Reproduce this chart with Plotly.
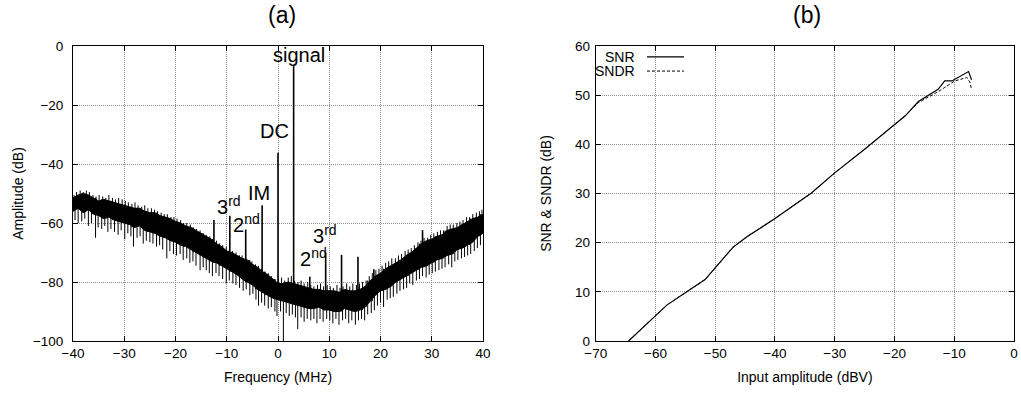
import plotly.graph_objects as go

# ---------------- (a) spectrum data ----------------
freq = list(range(-40, 41))  # MHz, 1 MHz grid for the noise band
noise_upper = [-51.5, -50.5, -50.0, -50.5, -51.5, -52.5, -52.0, -52.5, -53.0, -53.5,
               -54.0, -54.5, -55.0, -55.0, -56.0, -56.5, -56.5, -57.5, -58.0, -58.5,
               -59.5, -60.0, -61.0, -61.5, -62.5, -63.5, -64.5, -65.5, -67.0, -68.0,
               -69.5, -70.0, -71.0, -72.0, -72.5, -74.0, -75.0, -76.5, -77.5, -79.0,
               -80.5, -80.5, -80.0, -80.5, -81.0, -81.5, -82.0, -82.5, -82.5, -83.0,
               -83.0, -83.0, -83.5, -82.5, -83.0, -83.0, -82.5, -81.5, -79.5, -78.0,
               -77.0, -75.5, -74.5, -73.5, -72.5, -71.0, -70.0, -68.5, -67.0, -66.0,
               -65.5, -64.5, -64.0, -62.5, -62.0, -61.5, -60.5, -59.5, -58.5, -58.0,
               -57.0]
noise_lower = [-56.0, -55.0, -56.5, -55.5, -57.0, -57.5, -58.5, -58.0, -59.0, -59.5,
               -60.0, -60.5, -61.5, -61.0, -62.5, -63.0, -63.5, -64.5, -65.0, -66.0,
               -66.5, -67.5, -68.0, -69.0, -70.0, -71.0, -72.0, -73.0, -73.5, -74.5,
               -75.5, -76.5, -77.5, -79.0, -80.0, -81.0, -82.5, -83.5, -84.5, -85.5,
               -86.0, -86.5, -87.0, -87.5, -88.0, -88.5, -89.0, -89.0, -88.5, -89.5,
               -89.5, -90.0, -90.0, -89.0, -89.5, -90.0, -89.5, -88.5, -86.5, -84.5,
               -83.0, -82.5, -81.5, -80.0, -79.0, -78.0, -77.0, -76.0, -75.0, -74.5,
               -73.5, -72.5, -72.0, -71.0, -70.5, -69.0, -68.5, -67.5, -66.5, -64.5,
               -63.5]

# downward noise spikes (frequency, tip level)
down_f = [-39.6, -39.0, -38.3, -37.7, -37.0, -36.4, -35.6, -35.1, -34.4, -33.8,
          -33.2, -32.6, -31.9, -31.2, -30.6, -29.9, -29.3, -28.7, -28.2, -27.5,
          -26.9, -26.3, -25.7, -25.0, -24.4, -23.7, -23.1, -22.5, -21.7, -21.1,
          -20.4, -19.8, -19.1, -18.5, -17.8, -17.2, -16.6, -16.0, -15.2, -14.6,
          -14.0, -13.4, -12.8, -12.1, -11.5, -10.8, -10.1, -9.5, -8.8, -8.2,
          -7.5, -6.8, -6.2, -5.5, -4.9, -4.3, -3.8, -3.2, -2.6, -1.9,
          -1.3, -0.6, -0.2, 0.5, 1.05, 1.6, 2.2, 2.8, 3.4, 3.85,
          4.5, 5.1, 5.7, 6.4, 7.0, 7.6, 8.2, 8.8, 9.5, 10.1,
          10.7, 11.3, 11.9, 12.6, 13.2, 13.8, 14.4, 15.1, 15.7, 16.3,
          16.9, 17.5, 18.2, 18.8, 19.4, 20.0, 20.6, 21.3, 21.9, 22.5,
          23.2, 23.8, 24.5, 25.1, 25.7, 26.3, 27.0, 27.6, 28.2, 28.9,
          29.5, 30.1, 30.7, 31.4, 32.0, 32.6, 33.3, 33.9, 34.5, 35.1,
          35.8, 36.4, 37.0, 37.6, 38.3, 38.9, 39.5]
down_db = [-59.0, -60.0, -59.5, -58.5, -61.0, -60.0, -65.0, -61.5, -62.0, -61.0,
           -63.0, -62.0, -63.0, -64.0, -62.5, -65.5, -63.5, -64.5, -68.0, -65.0,
           -64.5, -67.0, -66.0, -66.5, -67.0, -68.0, -67.5, -69.0, -72.0, -69.5,
           -70.5, -71.0, -70.5, -72.5, -72.0, -73.5, -73.0, -74.5, -76.0, -75.0,
           -76.0, -77.0, -78.0, -77.0, -78.0, -79.0, -80.5, -79.5, -80.5, -81.0,
           -82.0, -83.0, -82.5, -84.5, -84.0, -86.0, -88.0, -87.0, -88.0, -89.0,
           -88.5, -90.0, -91.5, -90.0, -100.0, -90.5, -91.5, -91.0, -92.0, -96.0,
           -92.0, -93.5, -92.5, -93.0, -92.5, -94.0, -92.5, -93.5, -92.5, -93.0,
           -94.0, -92.5, -94.5, -93.0, -92.5, -94.0, -93.0, -94.5, -93.0, -92.5,
           -93.0, -91.0, -90.5, -89.5, -88.0, -87.0, -88.5, -86.0, -85.5, -85.0,
           -84.0, -83.0, -82.5, -82.0, -80.5, -81.0, -79.5, -79.0, -78.0, -78.5,
           -77.5, -77.0, -76.5, -76.0, -75.5, -75.0, -74.0, -75.0, -73.0, -72.5,
           -72.0, -71.5, -71.0, -70.5, -69.5, -68.5, -67.5]

# upward noise spikes (frequency, tip level)
up_f = [-39.8, -39.3, -38.6, -38.0, -37.4, -36.8, -36.1, -35.5, -34.9, -34.2,
        -33.6, -33.0, -32.3, -31.7, -31.1, -30.4, -29.8, -29.2, -28.5, -27.9,
        -27.3, -26.6, -26.0, -25.4, -24.7, -24.1, -23.5, -22.8, -22.2, -21.6,
        -20.9, -20.3, -19.7, -19.0, -18.4, -17.8, -17.1, -16.5, -15.9, -15.2,
        -14.6, -14.0, -13.3, -12.7, -12.0, -11.4, -10.8, -10.1, -9.5, -8.9,
        -8.2, -7.6, -7.0, -6.3, -5.7, -5.1, -4.4, -3.8, -3.2, -2.5,
        -1.9, -1.3, -0.6, 0.1, 0.7, 1.3, 2.0, 2.6, 3.2, 3.9,
        4.5, 5.1, 5.8, 6.4, 7.0, 7.7, 8.3, 8.9, 9.6, 10.2,
        10.8, 11.5, 12.1, 12.7, 13.4, 14.0, 14.6, 15.3, 15.9, 16.5,
        17.2, 17.8, 18.4, 19.1, 19.7, 20.3, 21.0, 21.6, 22.2, 22.9,
        23.5, 24.1, 24.8, 25.4, 26.0, 26.6, 27.3, 27.9, 28.5, 29.2,
        29.8, 30.4, 31.1, 31.7, 32.3, 33.0, 33.6, 34.2, 34.9, 35.5,
        36.1, 36.8, 37.4, 38.0, 38.7, 39.3, 39.8]
up_db = [-50.5, -49.5, -49.0, -49.5, -49.0, -49.5, -50.5, -51.0, -50.5, -51.0,
         -51.5, -50.5, -51.5, -52.0, -51.5, -52.0, -52.5, -53.0, -53.5, -53.0,
         -54.0, -54.5, -54.0, -55.0, -55.0, -55.5, -56.0, -56.5, -57.0, -57.0,
         -58.0, -58.0, -58.5, -59.0, -60.0, -60.0, -60.5, -61.5, -62.0, -62.5,
         -63.5, -64.0, -64.5, -65.5, -66.0, -67.0, -67.5, -68.0, -69.0, -69.5,
         -70.0, -71.0, -71.0, -71.5, -72.5, -73.0, -74.0, -74.5, -75.5, -76.5,
         -77.0, -78.0, -79.0, -79.0, -78.5, -79.5, -78.5, -78.0, -79.5, -80.0,
         -79.5, -80.5, -80.0, -81.0, -81.5, -81.0, -80.5, -81.5, -81.0, -81.5,
         -82.0, -81.0, -82.0, -81.5, -80.5, -81.5, -80.5, -81.0, -80.5, -80.0,
         -79.5, -78.0, -77.0, -76.0, -75.5, -74.5, -73.5, -73.0, -72.0, -72.0,
         -71.0, -70.5, -69.5, -69.0, -68.5, -67.5, -66.5, -66.0, -65.0, -65.0,
         -64.0, -63.5, -63.0, -62.5, -62.5, -61.0, -60.5, -60.5, -60.0, -59.5,
         -59.0, -58.0, -58.0, -57.0, -56.5, -56.0, -55.5]

# tones (signal, DC, harmonics, IM and spurs)
tone_f = [-12.5, -9.4, -6.3, -3.1, 0.0, 3.05, 6.2, 9.3, 12.4, 15.6, 18.7, 28.2]
tone_db = [-59.0, -57.5, -62.2, -54.0, -36.2, -6.8, -78.2, -70.0, -70.8, -71.4, -75.7, -62.4]

# tone labels
label_text = ["signal", "DC", "IM", "3<sup>rd</sup>", "2<sup>nd</sup>", "3<sup>rd</sup>", "2<sup>nd</sup>"]
label_f = [4.1, -0.6, -3.7, -9.6, -6.1, 9.2, 6.9]
label_db = [-3.0, -28.8, -49.8, -54.0, -60.0, -63.8, -71.8]

# ---------------- (b) SNR / SNDR data ----------------
snr_x = [-64.5, -58.1, -51.7, -47.0, -44.7, -40.0, -33.9, -30.0, -25.0, -19.9,
         -18.2, -16.0, -12.7, -11.6, -10.4, -7.6, -7.1]
snr_y = [0.0, 7.3, 12.5, 19.1, 21.2, 24.9, 30.1, 34.2, 39.0, 44.2,
         45.8, 48.7, 51.2, 52.9, 52.9, 54.8, 53.1]
sndr_x = [-64.5, -58.1, -51.7, -47.0, -44.7, -40.0, -33.9, -30.0, -25.0, -19.9,
          -18.2, -16.0, -12.7, -9.9, -7.9, -7.4, -7.1]
sndr_y = [0.0, 7.3, 12.5, 19.1, 21.2, 24.9, 30.1, 34.2, 39.0, 44.2,
          45.8, 48.5, 50.7, 52.9, 53.6, 52.7, 51.2]

FONT = "Liberation Sans, Arial, sans-serif"

# figure geometry (pixels)
W, H = 1021, 394
ML, MR, MT, MB = 73, 7, 46, 53
PW = W - ML - MR


def px_to_dom(px):
    return (px - ML) / PW


def nearest(arr, f):
    i = int(round(f)) + 40
    i = max(0, min(len(arr) - 1, i))
    return arr[i]


fig = go.Figure()

# noise band
fig.add_trace(go.Scatter(x=freq, y=noise_lower, mode="lines",
                         line=dict(color="black", width=1),
                         xaxis="x", yaxis="y", showlegend=False, hoverinfo="skip"))
fig.add_trace(go.Scatter(x=freq, y=noise_upper, mode="lines", fill="tonexty",
                         fillcolor="black", line=dict(color="black", width=1),
                         xaxis="x", yaxis="y", showlegend=False, hoverinfo="skip"))

# noise spikes
sx, sy = [], []
for f, d in zip(down_f, down_db):
    sx += [f, f, None]
    sy += [nearest(noise_upper, f), d, None]
for f, d in zip(up_f, up_db):
    sx += [f, f, None]
    sy += [nearest(noise_lower, f), d, None]
fig.add_trace(go.Scatter(x=sx, y=sy, mode="lines", line=dict(color="black", width=1),
                         xaxis="x", yaxis="y", showlegend=False, hoverinfo="skip"))

# tones
tx, ty = [], []
for f, d in zip(tone_f, tone_db):
    tx += [f, f, None]
    ty += [nearest(noise_lower, f), d, None]
fig.add_trace(go.Scatter(x=tx, y=ty, mode="lines", line=dict(color="black", width=1.6),
                         xaxis="x", yaxis="y", showlegend=False, hoverinfo="skip"))

# SNR / SNDR
fig.add_trace(go.Scatter(x=snr_x, y=snr_y, mode="lines", name="SNR",
                         line=dict(color="black", width=1.2),
                         xaxis="x2", yaxis="y2", showlegend=False))
fig.add_trace(go.Scatter(x=sndr_x, y=sndr_y, mode="lines", name="SNDR",
                         line=dict(color="black", width=1, dash="3px,2px"),
                         xaxis="x2", yaxis="y2", showlegend=False))

axis_common = dict(
    showline=True, linecolor="black", linewidth=1, mirror="ticks",
    ticks="inside", ticklen=5, tickcolor="black", tickwidth=1,
    showgrid=True, gridcolor="#8c8c8c", griddash="1px,1px", gridwidth=1,
    zeroline=False, automargin=False,
    tickfont=dict(family=FONT, size=13.5, color="black"),
    title_font=dict(family=FONT, size=14, color="black"),
)

fig.update_layout(
    width=W, height=H,
    margin=dict(l=ML, r=MR, t=MT, b=MB, autoexpand=False),
    paper_bgcolor="white", plot_bgcolor="white",
    font=dict(family=FONT, color="black"),
    xaxis=dict(domain=[px_to_dom(73), px_to_dom(483)], range=[-40, 40], dtick=10, anchor="y",
               ticklabelstandoff=0,
               title=dict(text="Frequency (MHz)", standoff=11), **axis_common),
    yaxis=dict(domain=[0, 1], range=[-100, 0], dtick=20, anchor="x",
               title=dict(text="Amplitude (dB)", standoff=5), ticklabelstandoff=6,
               **axis_common),
    xaxis2=dict(domain=[px_to_dom(595.7), px_to_dom(1014)], range=[-70, 0], dtick=10, anchor="y2",
                ticklabelstandoff=0,
                title=dict(text="Input amplitude (dBV)", standoff=11), **axis_common),
    yaxis2=dict(domain=[0, 1], range=[0, 60], dtick=10, anchor="x2",
                title=dict(text="SNR & SNDR (dB)", standoff=20), ticklabelstandoff=2,
                **axis_common),
)

annotations = [
    dict(text="(a)", xref="paper", yref="paper", x=px_to_dom(282), y=1.105, showarrow=False,
         xanchor="center", yanchor="middle", font=dict(family=FONT, size=23)),
    dict(text="(b)", xref="paper", yref="paper", x=px_to_dom(807), y=1.105, showarrow=False,
         xanchor="center", yanchor="middle", font=dict(family=FONT, size=23)),
]
for t, f, d in zip(label_text, label_f, label_db):
    annotations.append(dict(text=t, x=f, y=d, xref="x", yref="y", showarrow=False,
                            xanchor="center", yanchor="middle",
                            font=dict(family=FONT, size=20, color="black")))

# legend for (b), gnuplot style: text then line sample
annotations.append(dict(text="SNR", xref="paper", yref="paper", x=px_to_dom(637), y=0.963,
                        xanchor="right", yanchor="middle", showarrow=False,
                        font=dict(family=FONT, size=14)))
annotations.append(dict(text="SNDR", xref="paper", yref="paper", x=px_to_dom(637), y=0.915,
                        xanchor="right", yanchor="middle", showarrow=False,
                        font=dict(family=FONT, size=14)))
fig.update_layout(annotations=annotations)

fig.update_layout(shapes=[
    dict(type="line", xref="paper", yref="paper", x0=px_to_dom(647), x1=px_to_dom(684),
         y0=0.963, y1=0.963, line=dict(color="black", width=1.2)),
    dict(type="line", xref="paper", yref="paper", x0=px_to_dom(647), x1=px_to_dom(684),
         y0=0.915, y1=0.915, line=dict(color="black", width=1, dash="3px,2px")),
])

fig.write_html("out.html", config={"displayModeBar": False},
               post_script="document.body.style.margin='0';document.body.style.overflow='hidden';")
